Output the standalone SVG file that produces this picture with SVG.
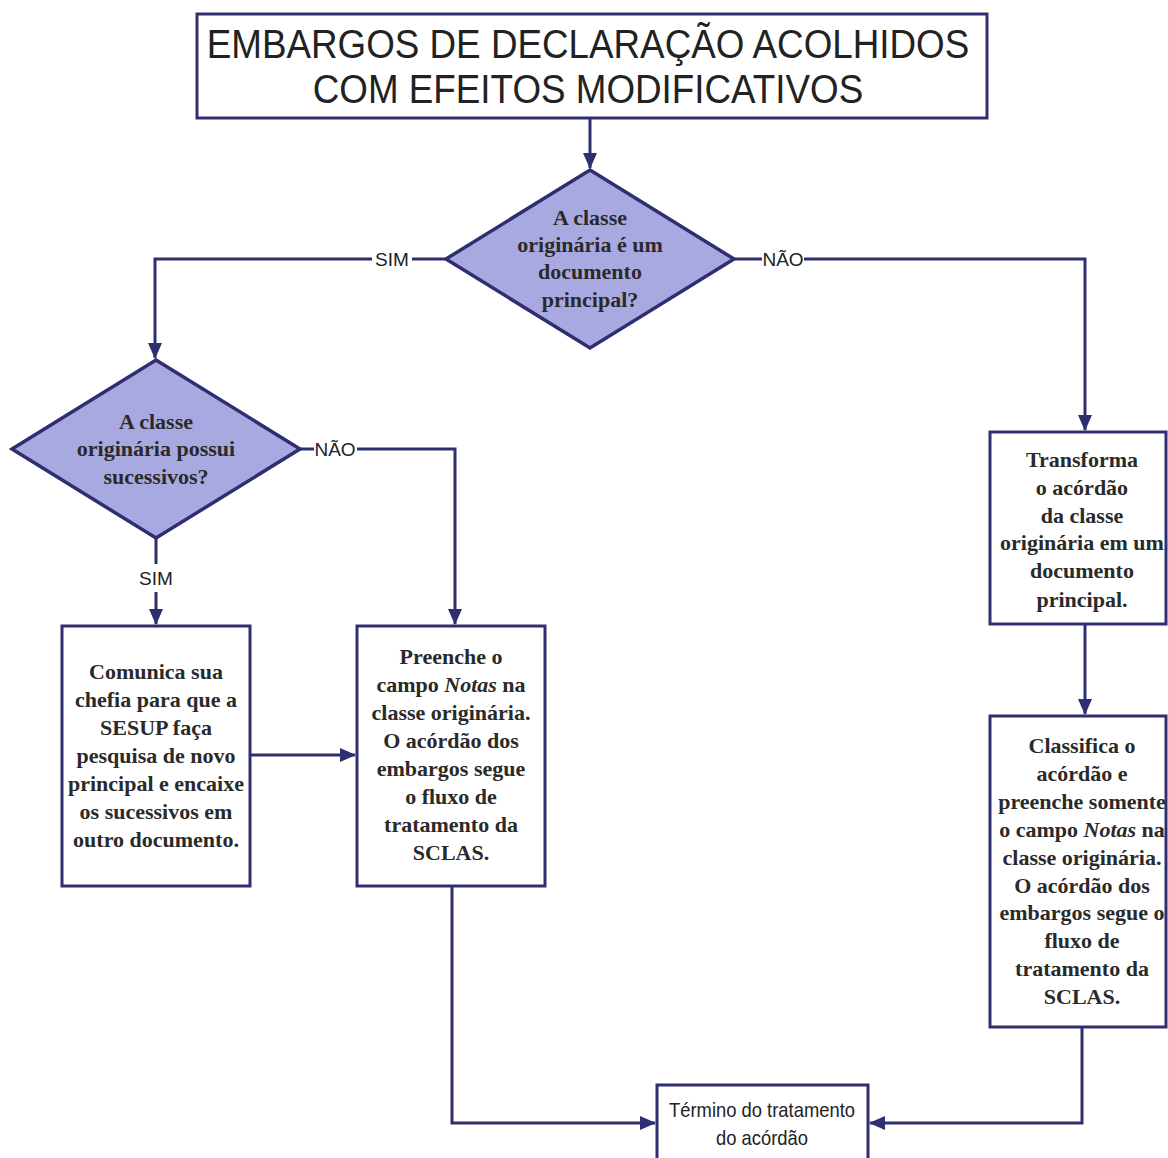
<svg xmlns="http://www.w3.org/2000/svg" width="1168" height="1158" viewBox="0 0 1168 1158">
<defs>
<marker id="arr" markerWidth="16" markerHeight="14" refX="15" refY="7" orient="auto" markerUnits="userSpaceOnUse">
<path d="M0,0 L16,7 L0,14 Z" fill="#2e2e70"/>
</marker>
<style>
.box{fill:#ffffff;stroke:#2e2e70;stroke-width:3}
.dia{fill:#a9a9e2;stroke:#2e2e70;stroke-width:3.5}
.con{fill:none;stroke:#2e2e70;stroke-width:3}
.t{font-family:"Liberation Serif","Times New Roman",serif;font-size:22px;font-weight:bold;fill:#2a2a2a;text-anchor:middle}
.s{font-family:"Liberation Sans",Arial,sans-serif;fill:#222;text-anchor:middle}
.lbl{font-family:"Liberation Sans",Arial,sans-serif;font-size:19px;fill:#222;text-anchor:middle}
</style>
</defs>
<rect width="1168" height="1158" fill="#ffffff"/>

<g id="connectors">
<path class="con" d="M590 118 V168" marker-end="url(#arr)"/>
<path class="con" d="M447 259 H412"/>
<path class="con" d="M372 259 H155 V358" marker-end="url(#arr)"/>
<path class="con" d="M733 259 H762"/>
<path class="con" d="M804 259 H1085 V430" marker-end="url(#arr)"/>
<path class="con" d="M300 449 H314"/>
<path class="con" d="M357 449 H455 V624" marker-end="url(#arr)"/>
<path class="con" d="M156 538 V564"/>
<path class="con" d="M156 592 V624" marker-end="url(#arr)"/>
<path class="con" d="M250 755 H355" marker-end="url(#arr)"/>
<path class="con" d="M1085 624 V714" marker-end="url(#arr)"/>
<path class="con" d="M452 886 V1123 H655" marker-end="url(#arr)"/>
<path class="con" d="M1082 1027 V1123 H870" marker-end="url(#arr)"/>
<text class="lbl" x="392" y="266">SIM</text>
<text class="lbl" x="783" y="266">NÃO</text>
<text class="lbl" x="335" y="456">NÃO</text>
<text class="lbl" x="156" y="585">SIM</text>
</g>

<g id="title">
<rect class="box" x="197" y="14" width="790" height="104"/>
<text class="s" transform="translate(588,0) scale(0.92,1)" x="0" y="58" font-size="40">EMBARGOS DE DECLARAÇÃO ACOLHIDOS</text>
<text class="s" transform="translate(588,0) scale(0.92,1)" x="0" y="103" font-size="40">COM EFEITOS MODIFICATIVOS</text>
</g>

<g id="decision1">
<polygon class="dia" points="590,170 734,259 590,348 446,259"/>
<text class="t" x="590" y="225">A classe</text>
<text class="t" x="590" y="252">originária é um</text>
<text class="t" x="590" y="279">documento</text>
<text class="t" x="590" y="307">principal?</text>
</g>

<g id="decision2">
<polygon class="dia" points="156,360 300,449 156,538 12,449"/>
<text class="t" x="156" y="429">A classe</text>
<text class="t" x="156" y="456">originária possui</text>
<text class="t" x="156" y="484">sucessivos?</text>
</g>

<g id="comunica">
<rect class="box" x="62" y="626" width="188" height="260"/>
<text class="t" x="156" y="679">Comunica sua</text>
<text class="t" x="156" y="707">chefia para que a</text>
<text class="t" x="156" y="735">SESUP faça</text>
<text class="t" x="156" y="763">pesquisa de novo</text>
<text class="t" x="156" y="791">principal e encaixe</text>
<text class="t" x="156" y="819">os sucessivos em</text>
<text class="t" x="156" y="847">outro documento.</text>
</g>

<g id="preenche">
<rect class="box" x="357" y="626" width="188" height="260"/>
<text class="t" x="451" y="664">Preenche o</text>
<text class="t" x="451" y="692">campo <tspan font-style="italic">Notas</tspan> na</text>
<text class="t" x="451" y="720">classe originária.</text>
<text class="t" x="451" y="748">O acórdão dos</text>
<text class="t" x="451" y="776">embargos segue</text>
<text class="t" x="451" y="804">o fluxo de</text>
<text class="t" x="451" y="832">tratamento da</text>
<text class="t" x="451" y="860">SCLAS.</text>
</g>

<g id="transforma">
<rect class="box" x="990" y="432" width="176" height="192"/>
<text class="t" x="1082" y="467">Transforma</text>
<text class="t" x="1082" y="495">o acórdão</text>
<text class="t" x="1082" y="523">da  classe</text>
<text class="t" x="1082" y="550">originária em um</text>
<text class="t" x="1082" y="578">documento</text>
<text class="t" x="1082" y="607">principal.</text>
</g>

<g id="classifica">
<rect class="box" x="990" y="716" width="176" height="311"/>
<text class="t" x="1082" y="753">Classifica o</text>
<text class="t" x="1082" y="781">acórdão e</text>
<text class="t" x="1082" y="809">preenche somente</text>
<text class="t" x="1082" y="837">o campo <tspan font-style="italic">Notas</tspan> na</text>
<text class="t" x="1082" y="865">classe originária.</text>
<text class="t" x="1082" y="893">O acórdão dos</text>
<text class="t" x="1082" y="920">embargos segue o</text>
<text class="t" x="1082" y="948">fluxo de</text>
<text class="t" x="1082" y="976">tratamento da</text>
<text class="t" x="1082" y="1004">SCLAS.</text>
</g>

<g id="termino">
<rect class="box" x="657" y="1085" width="211" height="80"/>
<text class="s" transform="translate(762,0) scale(0.92,1)" x="0" y="1117" font-size="20">Término do tratamento</text>
<text class="s" transform="translate(762,0) scale(0.92,1)" x="0" y="1145" font-size="20">do acórdão</text>
</g>
</svg>
